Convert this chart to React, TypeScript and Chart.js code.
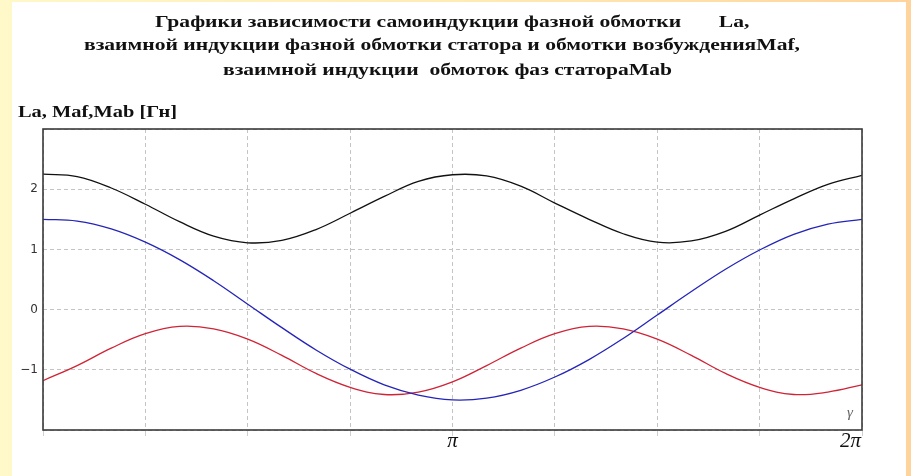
import React, { useEffect, useRef } from "react";
import { Chart, registerables } from "chart.js";

Chart.register(...registerables);

// angle γ in degrees (0 … 360 = 2π)
const angleDeg = [0, 15, 30, 45, 60, 75, 90, 105, 120, 135, 150, 165, 180, 195, 210, 225, 240, 255, 270, 285, 300, 315, 330, 345, 360];
// La – self-inductance of phase winding
const laValues = [2.25, 2.21, 2.02, 1.75, 1.46, 1.22, 1.11, 1.15, 1.33, 1.6, 1.88, 2.13, 2.24, 2.22, 2.05, 1.77, 1.5, 1.26, 1.12, 1.14, 1.3, 1.57, 1.84, 2.08, 2.23];
// Maf – mutual inductance stator phase / field winding
const mafValues = [1.5, 1.47, 1.34, 1.12, 0.83, 0.48, 0.09, -0.3, -0.67, -0.99, -1.25, -1.42, -1.5, -1.47, -1.34, -1.12, -0.83, -0.48, -0.09, 0.3, 0.67, 0.99, 1.25, 1.42, 1.5];
// Mab – mutual inductance of stator phases
const mabValues = [-1.18, -0.93, -0.64, -0.4, -0.28, -0.32, -0.49, -0.76, -1.06, -1.29, -1.41, -1.37, -1.2, -0.93, -0.64, -0.4, -0.28, -0.32, -0.49, -0.76, -1.06, -1.29, -1.41, -1.37, -1.25];

const yTickValues = [-1, 0, 1, 2];
const xLabelAngles = [180, 360];
const xLabelTexts = ["π", "2π"];

const titleLines = [
  "Графики зависимости самоиндукции фазной обмотки       La,",
  "взаимной индукции фазной обмотки статора и обмотки возбужденияMaf,",
  "взаимной индукции  обмоток фаз статораMab",
];
const yAxisTitle = "La, Maf,Mab [Гн]";
const xAxisTitle = "γ";

export default function App() {
  const canvasRef = useRef<HTMLCanvasElement | null>(null);

  useEffect(() => {
    const canvas = canvasRef.current;
    if (!canvas) return;

    const toPoints = (vals: number[]) => angleDeg.map((a, i) => ({ x: a, y: vals[i] }));

    const decor = {
      id: "decor",
      afterDraw(chart: any) {
        const ctx = chart.ctx as CanvasRenderingContext2D;
        const { left, right, top, bottom } = chart.chartArea;
        const xs = chart.scales.x;
        ctx.save();
        // frame
        ctx.strokeStyle = "#3a3a3a";
        ctx.lineWidth = 1.6;
        ctx.strokeRect(left, top, right - left, bottom - top);

        // title lines (bold serif, slightly widened like the original)
        ctx.fillStyle = "#111";
        ctx.textBaseline = "alphabetic";
        ctx.textAlign = "left";
        ctx.font = 'bold 17px "Liberation Serif", "Times New Roman", serif';
        const sx = 716 / ctx.measureText(titleLines[1]).width;
        const lefts = [155, 84, 223];
        const bases = [27, 50, 75];
        titleLines.forEach((t, i) => {
          ctx.save();
          ctx.translate(lefts[i], bases[i]);
          ctx.scale(sx, 1);
          ctx.fillText(t, 0, 0);
          ctx.restore();
        });
        // y axis title
        const sxl = 159 / ctx.measureText(yAxisTitle).width;
        ctx.save();
        ctx.translate(18, 117);
        ctx.scale(sxl, 1);
        ctx.fillText(yAxisTitle, 0, 0);
        ctx.restore();

        // x labels π, 2π
        ctx.font = 'italic 21px "Liberation Serif", "Times New Roman", serif';
        ctx.fillStyle = "#111";
        xLabelAngles.forEach((a, i) => {
          const px = xs.getPixelForValue(a);
          if (i === xLabelAngles.length - 1) {
            ctx.textAlign = "right";
            ctx.fillText(xLabelTexts[i], px - 1, bottom + 17);
          } else {
            ctx.textAlign = "center";
            ctx.fillText(xLabelTexts[i], px, bottom + 17);
          }
        });

        // γ label inside plot
        ctx.font = 'italic 15px "Liberation Serif", serif';
        ctx.fillStyle = "#666";
        ctx.textAlign = "right";
        ctx.fillText(xAxisTitle, right - 9, bottom - 13);
        ctx.restore();
      },
    };

    const chart = new Chart(canvas, {
      type: "line",
      data: {
        datasets: [
          { label: "La", data: toPoints(laValues), borderColor: "#111111", borderWidth: 1.3, pointRadius: 0, tension: 0.4, fill: false },
          { label: "Maf", data: toPoints(mafValues), borderColor: "#2424b8", borderWidth: 1.3, pointRadius: 0, tension: 0.4, fill: false },
          { label: "Mab", data: toPoints(mabValues), borderColor: "#cf2436", borderWidth: 1.3, pointRadius: 0, tension: 0.4, fill: false },
        ],
      },
      options: {
        responsive: false,
        animation: false,
        devicePixelRatio: 1,
        layout: { padding: { top: 129, left: 0, right: 49, bottom: 0 } },
        plugins: { legend: { display: false }, title: { display: false }, tooltip: { enabled: false } },
        scales: {
          x: {
            type: "linear",
            min: 0,
            max: 360,
            afterFit: (s: any) => {
              s.height = 46;
            },
            afterBuildTicks: (s: any) => {
              const t = [];
              for (let v = 0; v <= 360; v += 45) t.push({ value: v });
              s.ticks = t;
            },
            ticks: { autoSkip: false, callback: () => "", maxRotation: 0 },
            grid: { color: "#c4c4c4", lineWidth: 1, drawTicks: true, tickLength: 6, tickColor: "#d0d0d0" },
            border: { display: false, dash: [4, 3] },
          },
          y: {
            type: "linear",
            min: -2,
            max: 3,
            afterFit: (s: any) => {
              s.width = 43;
            },
            afterBuildTicks: (s: any) => {
              s.ticks = [-2, ...yTickValues, 3].map((v) => ({ value: v }));
            },
            ticks: {
              autoSkip: false,
              padding: 5,
              color: "#333",
              font: { family: '"DejaVu Sans", sans-serif', size: 12 },
              callback: (v: any) => {
                const n = Number(v);
                if (!yTickValues.includes(n)) return "";
                return n < 0 ? "−" + Math.abs(n) : String(n);
              },
            },
            grid: { color: "#c4c4c4", lineWidth: 1, drawTicks: false },
            border: { display: false, dash: [4, 3] },
          },
        },
      },
      plugins: [decor],
    });

    return () => chart.destroy();
  }, []);

  return (
    <div
      style={{
        position: "fixed",
        left: 0,
        top: 0,
        width: 911,
        height: 476,
        background: "linear-gradient(to right, #FFF8C8 0%, #FFEBB6 50%, #FFD49C 100%)",
        overflow: "hidden",
      }}
    >
      <div style={{ position: "absolute", left: 12, top: 2, width: 894, height: 474, background: "#ffffff" }} />
      <canvas ref={canvasRef} width={911} height={476} style={{ position: "absolute", left: 0, top: 0, width: 911, height: 476 }} />
    </div>
  );
}
